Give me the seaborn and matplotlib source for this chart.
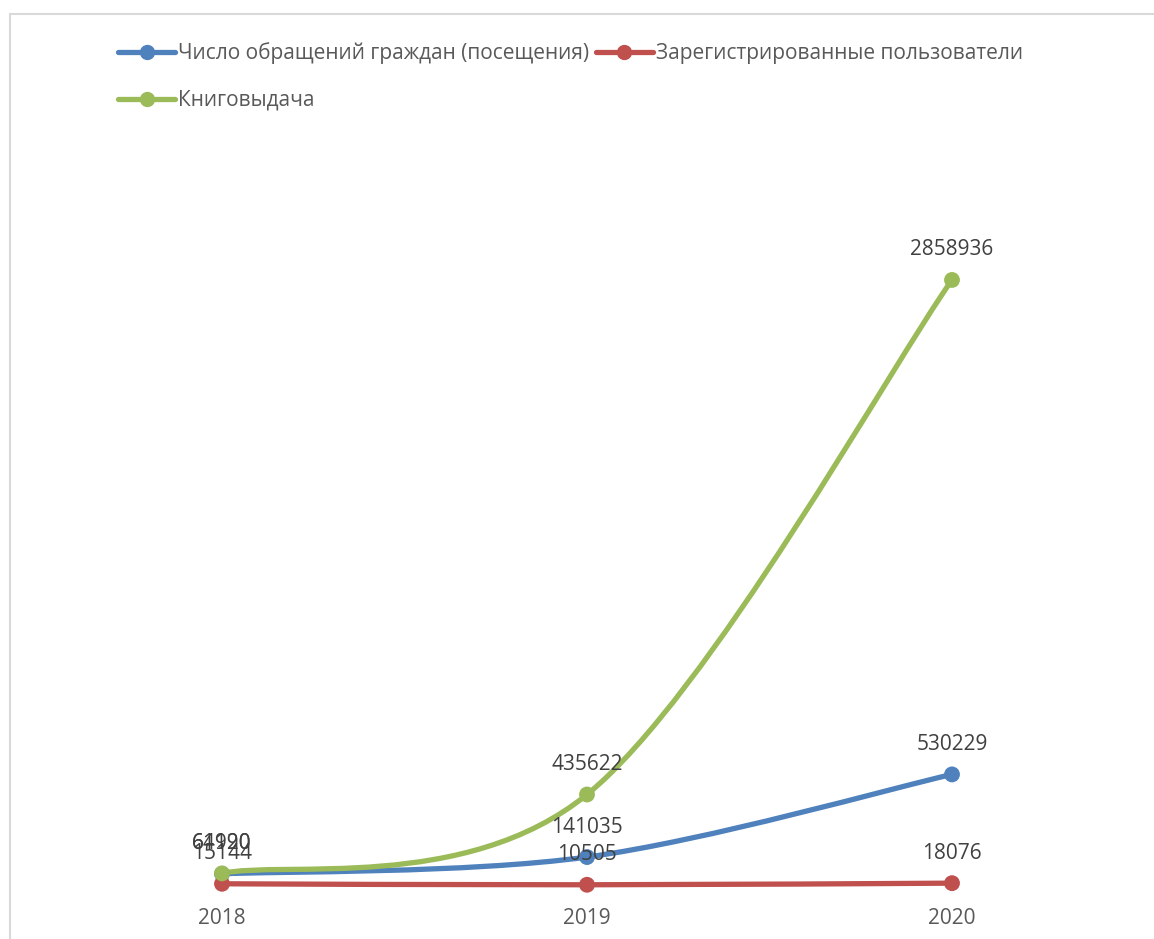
import pandas as pd
import numpy as np
import matplotlib.pyplot as plt
import seaborn as sns
from matplotlib.path import Path
from matplotlib.patches import PathPatch, Rectangle
from matplotlib.lines import Line2D

# Данные
years = ['2018', '2019', '2020']
series_names = ['Число обращений граждан (посещения)',
                'Зарегистрированные пользователи',
                'Книговыдача']
visits = [61990, 141035, 530229]
users = [15144, 10505, 18076]
books = [64120, 435622, 2858936]
colors = ['#4F81BD', '#C0504D', '#9BBB59']

sns.set_theme(style='white')
plt.rcParams['font.family'] = ['Open Sans', 'DejaVu Sans']
text_color = '#595959'

df = pd.DataFrame({
    'x': list(range(len(years))) * 3,
    'value': visits + users + books,
    'series': np.repeat(series_names, len(years)),
})

fig = plt.figure(figsize=(11.54, 9.39), dpi=100)
ax = fig.add_axes([39.5 / 1154, 52 / 939, 1095 / 1154, 637 / 939])

# Сглаженные линии (как в Excel) через кривые Безье
for name, vals, c in zip(series_names, [visits, users, books], colors):
    pts = list(zip(range(len(vals)), vals))
    verts = [pts[0]]
    codes = [Path.MOVETO]
    for i in range(len(pts) - 1):
        p_prev = pts[i - 1] if i > 0 else pts[i]
        p0 = pts[i]
        p1 = pts[i + 1]
        p_next = pts[i + 2] if i + 2 < len(pts) else pts[i + 1]
        c1 = (p0[0] + (p1[0] - p_prev[0]) / 6, p0[1] + (p1[1] - p_prev[1]) / 6)
        c2 = (p1[0] - (p_next[0] - p0[0]) / 6, p1[1] - (p_next[1] - p0[1]) / 6)
        verts += [c1, c2, p1]
        codes += [Path.CURVE4] * 3
    ax.add_patch(PathPatch(Path(verts, codes), facecolor='none', edgecolor=c,
                           lw=3.8, capstyle='round', clip_on=False, zorder=2))

sns.scatterplot(data=df, x='x', y='value', hue='series', palette=colors,
                hue_order=series_names, s=130, edgecolor='none', legend=False,
                ax=ax, zorder=3, clip_on=False)

# Подписи значений
for vals in [visits, users, books]:
    for i, v in enumerate(vals):
        ax.annotate(str(v), (i, v), xytext=(0, 30), textcoords='offset pixels',
                    ha='center', va='center', fontsize=15, color='#404040')

ax.set_xlim(-0.5, 2.5)
ax.set_ylim(0, 3000000)
ax.set_xticks(range(len(years)))
ax.set_xticklabels(years, fontsize=15, color=text_color)
ax.tick_params(axis='x', length=0, pad=15)
ax.set_yticks([])
ax.set_xlabel('')
ax.set_ylabel('')
for s in ax.spines.values():
    s.set_visible(False)

# Легенда
handles = [Line2D([0], [0], color=c, lw=3.8, marker='o', markersize=10,
                  solid_capstyle='round') for c in colors]
order = [0, 2, 1]
fig.legend([handles[i] for i in order], [series_names[i] for i in order],
           loc='upper left', bbox_to_anchor=(118 / 1154, 1 - 42 / 939),
           ncol=2, frameon=False, fontsize=15, labelcolor=text_color,
           handlelength=2.75, handletextpad=0.15, columnspacing=0.3,
           labelspacing=1.25, borderpad=0, borderaxespad=0)

# Рамка
fig.patches.append(Rectangle((9.5 / 1154, -0.05), 1.1, 1 - 13.5 / 939 + 0.05,
                             transform=fig.transFigure, fill=False,
                             edgecolor='#d9d9d9', lw=1.5, zorder=0))

plt.savefig('out.png', dpi=100)
